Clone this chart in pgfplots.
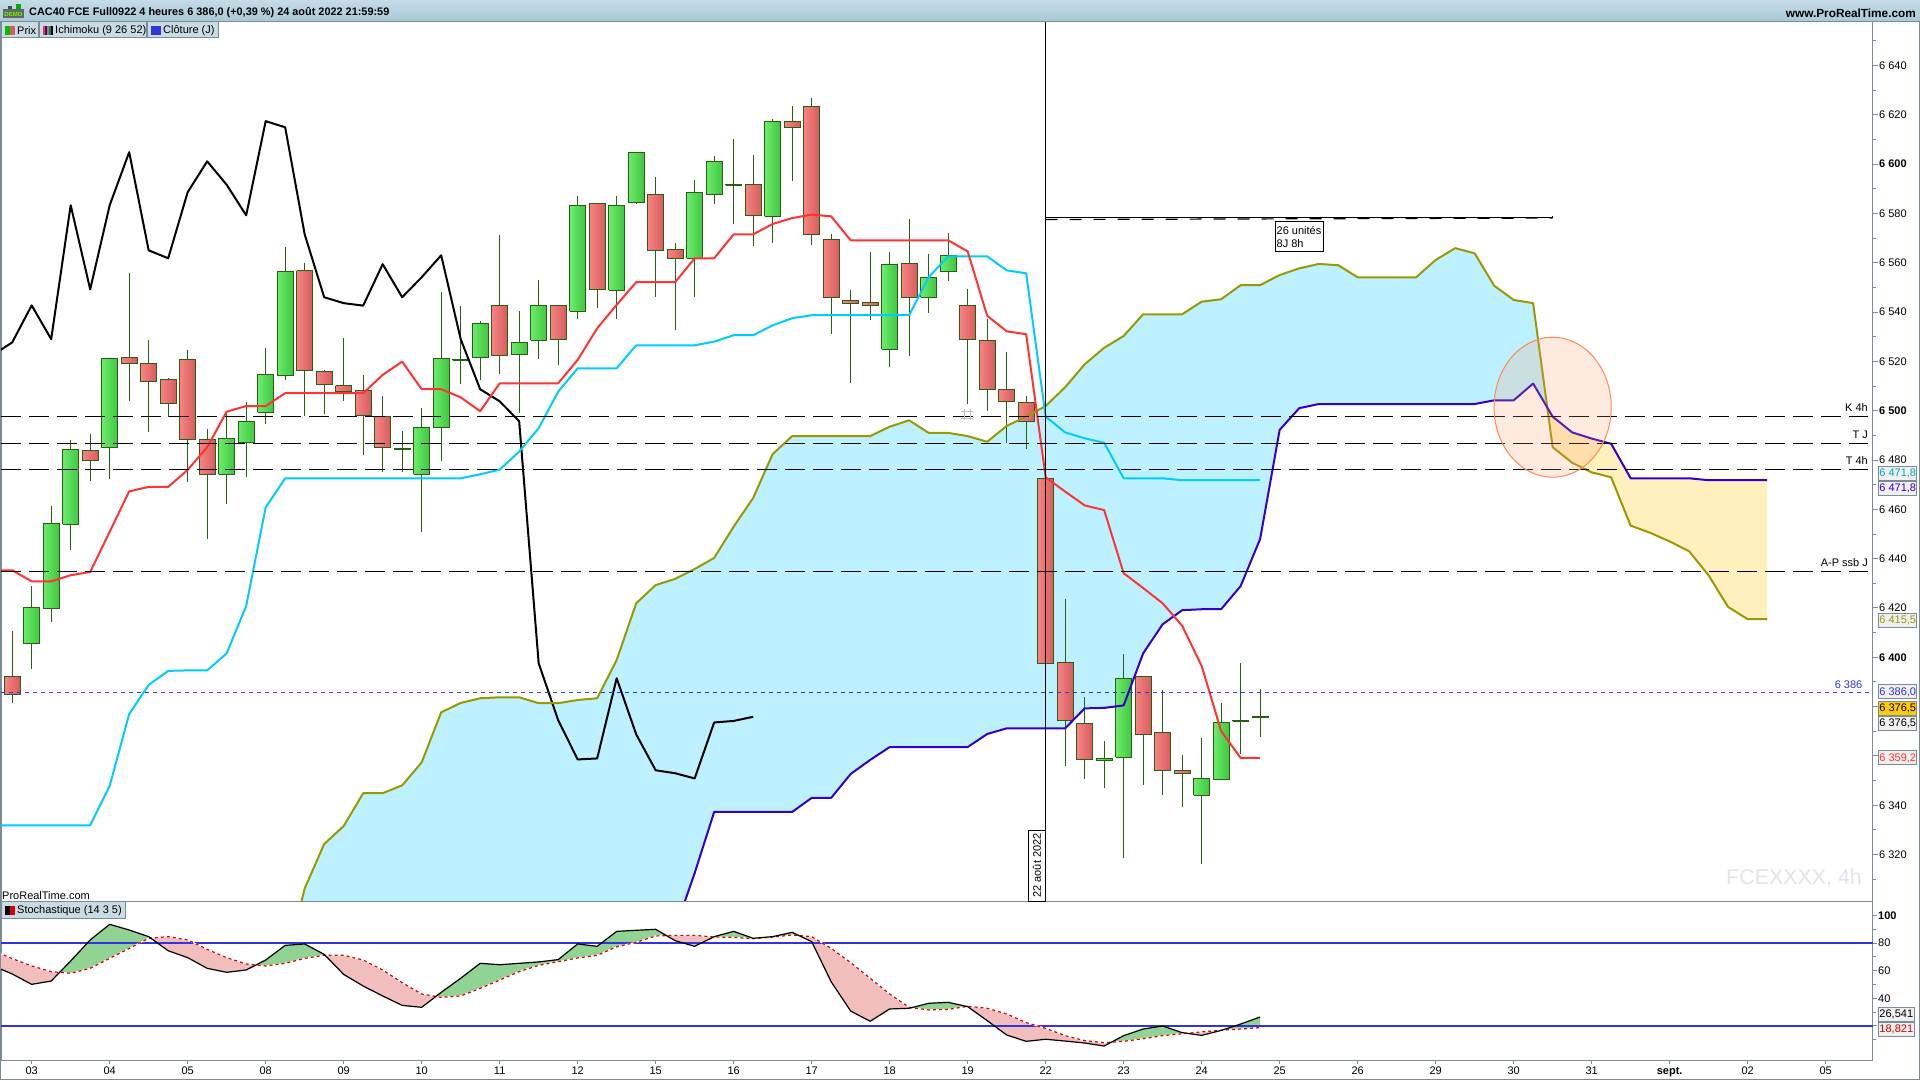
\documentclass[border=0pt]{standalone}
\usepackage{fontspec}
\setmainfont{Liberation Sans}
\usepackage{pgfplots}
\usepackage{pgfplotstable}
\pgfplotsset{compat=1.18}

\definecolor{frame}{HTML}{7A8C96}
\definecolor{wickc}{HTML}{2A5E12}
\definecolor{gl}{HTML}{6CEC6C}
\definecolor{gr}{HTML}{3FC63F}
\definecolor{rl}{HTML}{F88484}
\definecolor{rr}{HTML}{D65C5C}
\definecolor{cloudb}{HTML}{BDF1FF}
\definecolor{cloudy}{HTML}{FFF0BE}
\definecolor{tenkan}{HTML}{FF3333}
\definecolor{kijun}{HTML}{00CCFF}
\definecolor{spana}{HTML}{999900}
\definecolor{spanb}{HTML}{3300CC}
\definecolor{lineb}{HTML}{3333DD}
\definecolor{stg}{HTML}{90D392}
\definecolor{str}{HTML}{F1BDBD}
\definecolor{btn}{HTML}{CBDBE3}
\definecolor{barT}{HTML}{C5DCE6}
\definecolor{barB}{HTML}{A8C8D6}
\definecolor{gold}{HTML}{FFCC00}
\definecolor{ell}{HTML}{FF9966}
\definecolor{elld}{HTML}{FF8855}
\definecolor{wm}{HTML}{E0E4EA}

% ichimoku lines, x = candle number, y = price
\pgfplotstableread[row sep=\\]{i p\\ -1 6522.5\\ 0 6527.7\\ 1 6542.7\\ 2 6529.0\\ 3 6583.3\\ 4 6549.2\\ 5 6583.3\\ 6 6604.8\\ 7 6565.0\\ 8 6561.8\\ 9 6588.6\\ 10 6601.1\\ 11 6591.6\\ 12 6579.2\\ 13 6617.4\\ 14 6614.9\\ 15 6571.5\\ 16 6546.0\\ 17 6543.6\\ 18 6542.6\\ 19 6559.4\\ 20 6546.0\\ 21 6554.1\\ 22 6563.0\\ 23 6529.0\\ 24 6508.7\\ 25 6503.8\\ 26 6495.7\\ 27 6397.6\\ 28 6374.5\\ 29 6358.6\\ 30 6359.0\\ 31 6391.5\\ 32 6368.8\\ 33 6354.2\\ 34 6353.0\\ 35 6350.9\\ 36 6373.6\\ 37 6374.2\\ 38 6375.9\\}\chikou
\pgfplotstableread[row sep=\\]{i p\\ -1 6435.3\\ 0 6435.3\\ 1 6430.8\\ 2 6430.8\\ 3 6433.3\\ 4 6434.6\\ 5 6450.9\\ 6 6467.3\\ 7 6469.1\\ 8 6469.1\\ 9 6476.0\\ 10 6485.2\\ 11 6499.6\\ 12 6501.9\\ 13 6501.9\\ 14 6507.1\\ 18 6507.1\\ 19 6514.5\\ 20 6519.9\\ 21 6508.7\\ 22 6508.7\\ 23 6505.4\\ 24 6499.8\\ 25 6511.1\\ 28 6511.1\\ 29 6520.6\\ 30 6533.4\\ 31 6542.9\\ 32 6552.1\\ 34 6552.1\\ 35 6561.8\\ 36 6561.8\\ 37 6571.5\\ 38 6571.5\\ 39 6575.7\\ 40 6578.1\\ 41 6579.5\\ 42 6578.8\\ 43 6569.1\\ 48 6569.1\\ 49 6564.6\\ 50 6538.5\\ 51 6532.2\\ 52 6531.0\\ 53 6473.0\\ 54 6467.2\\ 55 6461.6\\ 56 6459.7\\ 57 6434.1\\ 58 6428.1\\ 59 6421.9\\ 60 6412.8\\ 61 6396.5\\ 62 6370.1\\ 63 6359.2\\ 64 6359.2\\}\tenkant
\pgfplotstableread[row sep=\\]{i p\\ -1 6331.9\\ 4 6331.9\\ 5 6347.9\\ 6 6377.0\\ 7 6388.8\\ 8 6394.5\\ 9 6394.7\\ 10 6394.7\\ 11 6401.6\\ 12 6420.8\\ 13 6460.8\\ 14 6472.6\\ 23 6472.6\\ 24 6474.2\\ 25 6476.1\\ 26 6483.4\\ 27 6492.9\\ 28 6507.7\\ 29 6517.2\\ 31 6517.2\\ 32 6526.5\\ 35 6526.5\\ 36 6528.0\\ 37 6530.6\\ 38 6530.6\\ 39 6534.6\\ 40 6537.5\\ 41 6538.7\\ 46 6538.7\\ 47 6554.1\\ 48 6562.6\\ 50 6562.6\\ 51 6556.9\\ 52 6555.7\\ 53 6497.6\\ 54 6491.2\\ 55 6488.8\\ 56 6487.0\\ 57 6472.6\\ 59 6472.6\\ 60 6471.8\\ 64 6471.8\\}\kijunt
\pgfplotstableread[row sep=\\]{i p\\ 14 6274\\ 15 6306.3\\ 16 6324.3\\ 17 6331.6\\ 18 6344.9\\ 19 6344.9\\ 20 6348.1\\ 21 6357.4\\ 22 6377.7\\ 23 6381.5\\ 24 6383.4\\ 25 6383.8\\ 26 6383.8\\ 27 6381.4\\ 28 6381.4\\ 29 6382.7\\ 30 6383.4\\ 31 6398.9\\ 32 6421.9\\ 33 6429.3\\ 34 6431.8\\ 35 6435.8\\ 36 6440.3\\ 37 6453.0\\ 38 6464.6\\ 39 6482.4\\ 40 6489.7\\ 44 6489.7\\ 45 6493.5\\ 46 6496.1\\ 47 6491.0\\ 48 6491.0\\ 49 6489.7\\ 50 6487.4\\ 51 6493.8\\ 52 6497.6\\ 53 6501.9\\ 54 6509.5\\ 55 6518.8\\ 56 6525.5\\ 57 6530.3\\ 58 6539.1\\ 60 6539.1\\ 61 6544.2\\ 62 6545.2\\ 63 6550.9\\ 64 6550.9\\ 65 6555.0\\ 66 6557.7\\ 67 6559.5\\ 68 6559.0\\ 69 6554.1\\ 72 6554.1\\ 73 6561.1\\ 74 6565.9\\ 75 6563.8\\ 76 6550.7\\ 77 6544.9\\ 78 6543.6\\ 79 6485.2\\ 80 6478.9\\ 81 6475.0\\ 82 6473.0\\ 83 6453.4\\ 84 6450.5\\ 85 6447.0\\ 86 6443.0\\ 87 6433.2\\ 88 6420.4\\ 89 6415.5\\ 90 6415.5\\}\spanA
\pgfplotstableread[row sep=\\]{i p\\ 34 6289.8\\ 35 6312.5\\ 36 6337.3\\ 40 6337.3\\ 41 6343.0\\ 42 6343.0\\ 43 6352.7\\ 44 6358.4\\ 45 6363.6\\ 49 6363.6\\ 50 6368.9\\ 51 6371.2\\ 54 6371.2\\ 55 6379.3\\ 56 6379.5\\ 57 6380.5\\ 58 6401.6\\ 59 6413.4\\ 60 6419.1\\ 61 6419.5\\ 62 6419.5\\ 63 6428.9\\ 64 6448.0\\ 65 6492.2\\ 66 6501.0\\ 67 6502.7\\ 75 6502.7\\ 76 6504.2\\ 77 6504.2\\ 78 6511.0\\ 79 6497.6\\ 80 6491.2\\ 81 6488.7\\ 82 6486.6\\ 83 6472.6\\ 86 6472.6\\ 87 6471.8\\ 90 6471.8\\}\spanB
% stochastic, %K and %D
\pgfplotstableread[row sep=\\]{i k d\\ -1 63.6 74.7\\ 0 57.6 68.7\\ 1 50.1 63.4\\ 2 52.5 59.3\\ 3 67.0 58.1\\ 4 82.2 61.7\\ 5 93.5 68.9\\ 6 89.4 76.1\\ 7 84.6 83.4\\ 8 74.4 84.6\\ 9 69.4 82.2\\ 10 61.7 75.4\\ 11 58.8 69.4\\ 12 60.5 64.8\\ 13 67.7 63.4\\ 14 78.3 65.3\\ 15 79.3 68.9\\ 16 71.8 71.1\\ 17 57.3 71.1\\ 18 48.9 67.7\\ 19 41.7 60.5\\ 20 34.9 51.3\\ 21 33.5 43.1\\ 22 44.3 40.7\\ 23 54.5 41.7\\ 24 65.3 47.2\\ 25 64.3 53.2\\ 26 65.3 59.3\\ 27 66.3 63.8\\ 28 68.0 66.5\\ 29 79.3 69.2\\ 30 77.6 71.1\\ 31 88.4 77.3\\ 32 89.2 80.5\\ 33 89.9 85.1\\ 34 81.7 85.5\\ 35 77.6 85.5\\ 36 84.6 84.3\\ 37 88.4 84.1\\ 38 83.4 83.1\\ 39 84.6 84.3\\ 40 87.7 85.8\\ 41 81.0 84.6\\ 42 52.0 76.1\\ 43 30.8 65.8\\ 44 23.4 54.5\\ 45 32.3 43.1\\ 46 32.8 33.5\\ 47 36.4 31.6\\ 48 37.1 32.0\\ 49 34.0 34.2\\ 50 23.9 32.8\\ 51 13.5 28.7\\ 52 8.9 22.4\\ 53 10.4 18.3\\ 54 9.1 13.0\\ 55 7.7 9.4\\ 56 5.5 7.9\\ 57 13.0 8.9\\ 58 17.8 10.8\\ 59 20.0 13.0\\ 60 15.2 14.4\\ 61 13.2 15.7\\ 62 16.8 16.9\\ 63 21.4 17.8\\ 64 26.5 18.8\\}\stoch

% candle: {number}{open}{high}{low}{close}
\newcommand{\candle}[7]{%
  \pgfmathsetmacro\xa{#3-0.418}\pgfmathsetmacro\xb{#3+0.418}%
  \addplot[wickc,line width=1pt] coordinates {(#3,#5)(#3,#6)};
  \addplot[draw=wickc,line width=1pt,line join=miter,left color=#1,right color=#2]
    coordinates {(\xa,#4)(\xb,#4)(\xb,#7)(\xa,#7)(\xa,#4)};
}
\newcommand{\up}{\candle{gl}{gr}}
\newcommand{\dn}{\candle{rl}{rr}}
\tikzset{lab/.style={font=\fontsize{11}{13}\selectfont,inner sep=0pt},
  tagb/.style={lab,draw=frame,line width=1pt,fill=#1,minimum width=38pt,minimum height=14pt},
  tagb/.default={black!6}}

\begin{document}
\begin{tikzpicture}
\path[use as bounding box,fill=white] (0,0) rectangle (1920pt,1080pt);

% title bar
\shade[top color=barT,bottom color=barB] (0,1058pt) rectangle (1920pt,1080pt);
\node[lab,anchor=west,font=\fontsize{10.9}{13}\selectfont\bfseries] at (29pt,1067pt) {CAC40 FCE Full0922 4 heures 6 386,0 (+0,39 \%) 24 août 2022 21:59:59};
\node[lab,anchor=east,font=\fontsize{11.8}{13}\selectfont\bfseries] at (1916pt,1067pt) {www.ProRealTime.com};

\begin{axis}[
  name=price,
  at={(1pt,179pt)},anchor=south west,
  scale only axis,width=1872pt,height=879pt,
  xmin=-0.574,xmax=95.426,ymin=6301.2,ymax=6657.6,
  xtick=\empty,
  ytick={6320,6340,...,6640},
  minor ytick={6310,6330,...,6650},
  yticklabels={6 320,6 340,,,\textbf{6 400},6 420,6 440,6 460,6 480,\textbf{6 500},6 520,6 540,6 560,6 580,\textbf{6 600},6 620,6 640},
  ytick pos=right,yticklabel pos=right,
  tick align=outside,
  major tick length=5pt,minor tick length=3pt,
  every tick/.style={frame,line width=1pt},
  axis line style={frame,line width=1pt},
  yticklabel style={font=\fontsize{11}{13}\selectfont,inner sep=0pt,xshift=1pt},
]
% kumo: span A forward, span B back
\addplot[fill=cloudb,draw=none] coordinates {(14,6274)(15,6306.3)(16,6324.3)(17,6331.6)(18,6344.9)(19,6344.9)(20,6348.1)(21,6357.4)(22,6377.7)(23,6381.5)(24,6383.4)(25,6383.8)(26,6383.8)(27,6381.4)(28,6381.4)(29,6382.7)(30,6383.4)(31,6398.9)(32,6421.9)(33,6429.3)(34,6431.8)(35,6435.8)(36,6440.3)(37,6453.0)(38,6464.6)(39,6482.4)(40,6489.7)(44,6489.7)(45,6493.5)(46,6496.1)(47,6491.0)(48,6491.0)(49,6489.7)(50,6487.4)(51,6493.8)(52,6497.6)(53,6501.9)(54,6509.5)(55,6518.8)(56,6525.5)(57,6530.3)(58,6539.1)(60,6539.1)(61,6544.2)(62,6545.2)(63,6550.9)(64,6550.9)(65,6555.0)(66,6557.7)(67,6559.5)(68,6559.0)(69,6554.1)(72,6554.1)(73,6561.1)(74,6565.9)(75,6563.8)(76,6550.7)(77,6544.9)(78,6543.6)(78.72,6501.3)(78,6511.0)(77,6504.2)(76,6504.2)(75,6502.7)(67,6502.7)(66,6501.0)(65,6492.2)(64,6448.0)(63,6428.9)(62,6419.5)(61,6419.5)(60,6419.1)(59,6413.4)(58,6401.6)(57,6380.5)(56,6379.5)(55,6379.3)(54,6371.2)(51,6371.2)(50,6368.9)(49,6363.6)(45,6363.6)(44,6358.4)(43,6352.7)(42,6343.0)(41,6343.0)(40,6337.3)(36,6337.3)(35,6312.5)(34,6289.8)(14,6274)};
\addplot[fill=cloudy,draw=none] coordinates {(78.72,6501.3)(79,6485.2)(80,6478.9)(81,6475.0)(82,6473.0)(83,6453.4)(84,6450.5)(85,6447.0)(86,6443.0)(87,6433.2)(88,6420.4)(89,6415.5)(90,6415.5)(90,6471.8)(87,6471.8)(86,6472.6)(83,6472.6)(82,6486.6)(81,6488.7)(80,6491.2)(79,6497.6)(78.72,6501.3)};

\dn{0}{6392.1}{6410.7}{6381.6}{6385.0}
\up{1}{6405.5}{6428.9}{6395.4}{6420.3}
\up{2}{6419.9}{6461.4}{6414.4}{6454.3}
\up{3}{6453.9}{6488.1}{6443.5}{6484.3}
\dn{4}{6483.9}{6490.6}{6471.6}{6479.9}
\up{5}{6485.0}{6521.2}{6472.4}{6521.2}
\dn{6}{6521.7}{6555.8}{6503.9}{6519.2}
\dn{7}{6519.2}{6528.7}{6491.5}{6511.8}
\dn{8}{6512.7}{6513.1}{6497.6}{6503.0}
\dn{9}{6520.8}{6524.6}{6471.2}{6488.4}
\dn{10}{6488.4}{6492.6}{6447.9}{6474.2}
\up{11}{6474.2}{6499.6}{6462.2}{6488.8}
\up{12}{6487.0}{6503.4}{6473.2}{6495.7}
\up{13}{6499.4}{6525.4}{6494.7}{6514.8}
\up{14}{6514.4}{6566.3}{6512.5}{6556.4}
\dn{15}{6556.8}{6559.8}{6498.0}{6516.4}
\dn{16}{6516.0}{6516.5}{6498.7}{6510.7}
\dn{17}{6510.1}{6529.4}{6504.1}{6507.7}
\dn{18}{6508.3}{6514.5}{6482.0}{6497.9}
\dn{19}{6497.6}{6506.0}{6475.3}{6485.2}
\up{20}{6484.4}{6491.8}{6475.3}{6484.8}
\up{21}{6474.2}{6501.0}{6450.9}{6493.3}
\up{22}{6493.3}{6548.0}{6479.7}{6521.2}
\up{23}{6520.4}{6542.5}{6510.7}{6520.8}
\up{24}{6521.7}{6536.4}{6512.5}{6535.4}
\dn{25}{6542.7}{6571.2}{6514.9}{6522.5}
\up{26}{6522.9}{6540.4}{6498.9}{6527.7}
\up{27}{6528.5}{6553.0}{6521.1}{6542.7}
\dn{28}{6542.7}{6542.7}{6518.7}{6529.0}
\up{29}{6540.3}{6587.1}{6537.3}{6583.3}
\dn{30}{6584.1}{6584.1}{6541.8}{6549.2}
\up{31}{6548.8}{6587.1}{6537.3}{6583.3}
\up{32}{6584.5}{6604.8}{6583.8}{6604.8}
\dn{33}{6587.8}{6594.6}{6546.2}{6565.0}
\dn{34}{6565.5}{6567.9}{6532.9}{6561.8}
\up{35}{6561.8}{6593.6}{6546.2}{6588.6}
\up{36}{6587.8}{6603.3}{6583.9}{6601.1}
\up{37}{6591.4}{6610.1}{6575.7}{6591.8}
\dn{38}{6591.8}{6603.7}{6566.9}{6579.2}
\up{39}{6578.8}{6618.3}{6568.1}{6617.4}
\dn{40}{6617.4}{6623.6}{6593.3}{6614.9}
\dn{41}{6623.4}{6626.7}{6567.3}{6571.5}
\dn{42}{6569.5}{6571.5}{6531.2}{6546.0}
\dn{43}{6544.8}{6548.9}{6511.4}{6543.6}
\dn{44}{6544.0}{6564.4}{6536.9}{6542.6}
\up{45}{6524.9}{6564.4}{6517.8}{6559.4}
\dn{46}{6559.8}{6577.6}{6522.3}{6546.0}
\up{47}{6546.0}{6563.5}{6539.7}{6554.1}
\up{48}{6556.5}{6572.1}{6552.7}{6563.0}
\dn{49}{6542.7}{6549.4}{6502.7}{6529.0}
\dn{50}{6528.5}{6537.2}{6500.0}{6508.7}
\dn{51}{6508.7}{6523.8}{6487.0}{6503.8}
\dn{52}{6503.4}{6506.0}{6484.6}{6495.7}
\dn{53}{6472.6}{6472.6}{6397.6}{6397.6}
\dn{54}{6398.0}{6423.5}{6356.0}{6374.5}
\dn{55}{6373.2}{6383.9}{6350.8}{6358.6}
\up{56}{6358.1}{6365.9}{6347.1}{6359.0}
\up{57}{6359.5}{6401.3}{6318.7}{6391.5}
\dn{58}{6392.3}{6392.3}{6348.3}{6368.8}
\dn{59}{6369.6}{6386.6}{6344.3}{6354.2}
\dn{60}{6354.2}{6360.3}{6339.4}{6353.0}
\up{61}{6344.0}{6367.3}{6316.3}{6350.9}
\up{62}{6350.5}{6381.3}{6350.5}{6373.6}
\up{63}{6374.0}{6397.6}{6360.9}{6374.4}
\up{64}{6375.7}{6387.0}{6367.8}{6376.1}

% ichimoku
\addplot[black,line width=2pt,line join=round] table[x=i,y=p] {\chikou};
\addplot[spana,line width=2pt,line join=round] table[x=i,y=p] {\spanA};
\addplot[spanb,line width=2pt,line join=round] table[x=i,y=p] {\spanB};
\addplot[kijun,line width=2pt,line join=round] table[x=i,y=p] {\kijunt};
\addplot[tenkan,line width=2pt,line join=round] table[x=i,y=p] {\tenkant};

% horizontal levels
\addplot[black,line width=1pt,dash pattern=on 20pt off 8pt] coordinates {(-0.574,6497.7)(95.18,6497.7)};
\addplot[black,line width=1pt,dash pattern=on 20pt off 8pt] coordinates {(-0.574,6486.8)(95.18,6486.8)};
\addplot[black,line width=1pt,dash pattern=on 20pt off 8pt] coordinates {(-0.574,6476.2)(95.18,6476.2)};
\addplot[black,line width=1pt,dash pattern=on 20pt off 8pt] coordinates {(-0.574,6434.9)(95.18,6434.9)};
\addplot[lineb,line width=1pt,dash pattern=on 4pt off 4pt] coordinates {(-0.574,6385.8)(95.426,6385.8)};

% measuring tool and cursor
\addplot[black,line width=1.5pt] coordinates {(53,6657.6)(53,6301.2)};
\addplot[black,line width=1pt] coordinates {(53,6578.3)(79,6578.3)(79,6579.0)};
\addplot[black,line width=1.2pt,dash pattern=on 12pt off 12pt] coordinates {(53,6577.5)(79,6578.1)};

% ellipse
\draw[fill=ell,fill opacity=0.2,draw=elld,line width=1pt]
  (axis cs:79,6501.4) ellipse [x radius=58.6pt,y radius=70pt];
\end{axis}

\begin{axis}[
  name=sto,
  at={(1pt,20pt)},anchor=south west,
  scale only axis,width=1872pt,height=159pt,
  xmin=-0.574,xmax=95.426,ymin=-4.6,ymax=110.37,
  xtick={1,5,...,93},
  xticklabels={03,04,05,08,09,10,11,12,15,16,17,18,19,22,23,24,25,26,29,30,31,\textbf{sept.},02,05},
  ytick={20,40,60,80,100},
  yticklabels={,40,60,80,\textbf{100}},
  minor ytick={10,30,50,70,90},
  ytick pos=right,yticklabel pos=right,
  xtick pos=bottom,
  tick align=outside,
  major tick length=4pt,minor tick length=3pt,
  every tick/.style={frame,line width=1pt},
  axis line style={frame,line width=1pt},
  ticklabel style={font=\fontsize{11}{13}\selectfont,inner sep=0pt},
  yticklabel style={xshift=1pt},
  xticklabel style={yshift=-3pt},
]
% areas between %K and %D, one polygon per stretch
\addplot[fill=str,draw=none] coordinates {(-1,63.6)(0,57.6)(1,50.1)(2,52.5)(2.43,58.8)(2,59.3)(1,63.4)(0,68.7)(-1,74.7)(-1,63.6)};
\addplot[fill=stg,draw=none] coordinates {(2.43,58.8)(3,67.0)(4,82.2)(5,93.5)(6,89.4)(7,84.6)(7.1,83.5)(7,83.4)(6,76.1)(5,68.9)(4,61.7)(3,58.1)(2.43,58.8)};
\addplot[fill=str,draw=none] coordinates {(7.1,83.5)(8,74.4)(9,69.4)(10,61.7)(11,58.8)(12,60.5)(12.5,64.1)(12,64.8)(11,69.4)(10,75.4)(9,82.2)(8,84.6)(7.1,83.5)};
\addplot[fill=stg,draw=none] coordinates {(12.5,64.1)(13,67.7)(14,78.3)(15,79.3)(16,71.8)(16.05,71.1)(16,71.1)(15,68.9)(14,65.3)(13,63.4)(12.5,64.1)};
\addplot[fill=str,draw=none] coordinates {(16.05,71.1)(17,57.3)(18,48.9)(19,41.7)(20,34.9)(21,33.5)(21.73,41.4)(21,43.1)(20,51.3)(19,60.5)(18,67.7)(17,71.1)(16.05,71.1)};
\addplot[fill=stg,draw=none] coordinates {(21.73,41.4)(22,44.3)(23,54.5)(24,65.3)(25,64.3)(26,65.3)(27,66.3)(28,68.0)(29,79.3)(30,77.6)(31,88.4)(32,89.2)(33,89.9)(33.56,85.3)(33,85.1)(32,80.5)(31,77.3)(30,71.1)(29,69.2)(28,66.5)(27,63.8)(26,59.3)(25,53.2)(24,47.2)(23,41.7)(22,40.7)(21.73,41.4)};
\addplot[fill=str,draw=none] coordinates {(33.56,85.3)(34,81.7)(35,77.6)(35.96,84.3)(35,85.5)(34,85.5)(33.56,85.3)};
\addplot[fill=stg,draw=none] coordinates {(35.96,84.3)(36,84.6)(37,88.4)(38,83.4)(39,84.6)(40,87.7)(40.35,85.4)(40,85.8)(39,84.3)(38,83.1)(37,84.1)(36,84.3)(35.96,84.3)};
\addplot[fill=str,draw=none] coordinates {(40.35,85.4)(41,81.0)(42,52.0)(43,30.8)(44,23.4)(45,32.3)(46,32.8)(46.13,33.2)(46,33.5)(45,43.1)(44,54.5)(43,65.8)(42,76.1)(41,84.6)(40.35,85.4)};
\addplot[fill=stg,draw=none] coordinates {(46.13,33.2)(47,36.4)(48,37.1)(48.96,34.2)(48,32.0)(47,31.6)(46.13,33.2)};
\addplot[fill=str,draw=none] coordinates {(48.96,34.2)(50,23.9)(51,13.5)(52,8.9)(53,10.4)(54,9.1)(55,7.7)(56,5.5)(56.37,8.3)(56,7.9)(55,9.4)(54,13.0)(53,18.3)(52,22.4)(51,28.7)(50,32.8)(48.96,34.2)};
\addplot[fill=stg,draw=none] coordinates {(56.37,8.3)(57,13.0)(58,17.8)(59,20.0)(60,15.2)(60.24,14.7)(60,14.4)(59,13.0)(58,10.8)(57,8.9)(56.37,8.3)};
\addplot[fill=str,draw=none] coordinates {(60.24,14.7)(61,13.2)(62,16.8)(62.03,16.9)(62,16.9)(61,15.7)(60.24,14.7)};
\addplot[fill=stg,draw=none] coordinates {(62.03,16.9)(63,21.4)(64,26.5)(64,18.8)(63,17.8)(62.03,16.9)};

\addplot[lineb,line width=2pt] coordinates {(-0.574,80)(95.426,80)};
\addplot[lineb,line width=2pt] coordinates {(-0.574,20)(95.426,20)};
\addplot[white,line width=1.2pt] table[x=i,y=d] {\stoch};
\addplot[red!85!black,line width=1.2pt,dash pattern=on 3pt off 3pt] table[x=i,y=d] {\stoch};
\addplot[black,line width=1.2pt,line join=round] table[x=i,y=k] {\stoch};
\end{axis}

% outer frame
\draw[frame,line width=1pt] (0.5pt,0.5pt) rectangle (1919.5pt,1058pt);

% legend buttons
\draw[frame,fill=btn,line width=1pt] (1pt,1042pt) rectangle (38pt,1058pt);
\fill[green!75!black] (5pt,1045pt) rectangle (10pt,1054pt); \fill[rr] (10pt,1045pt) rectangle (15pt,1054pt);
\node[lab,anchor=west] at (17pt,1049pt) {Prix};
\draw[frame,fill=btn,line width=1pt] (39pt,1042pt) rectangle (146pt,1058pt);
\fill[tenkan] (43pt,1045pt) rectangle (45pt,1054pt); \fill[spanb] (45pt,1045pt) rectangle (47pt,1054pt);
\fill[spana] (47pt,1045pt) rectangle (49pt,1054pt); \fill[kijun!60!black] (49pt,1045pt) rectangle (51pt,1054pt); \fill[black] (51pt,1045pt) rectangle (53pt,1054pt);
\node[lab,anchor=west] at (55pt,1049pt) {Ichimoku (9 26 52)};
\draw[frame,fill=btn,line width=1pt] (147pt,1042pt) rectangle (218pt,1058pt);
\fill[lineb] (151pt,1045pt) rectangle (161pt,1054pt);
\node[lab,anchor=west] at (163pt,1049pt) {Clôture (J)};

% logo
\fill[black!60] (3pt,1062pt) rectangle (24pt,1071pt);
\fill[green!70!black] (16pt,1071pt) rectangle (21pt,1076pt);
\fill[black!70] (8pt,1071pt) rectangle (12pt,1074pt);
\node[inner sep=0pt,font=\fontsize{6}{6}\selectfont\bfseries,text=green!60!yellow] at (13.5pt,1066pt) {DEMO};

% stochastic button, provider name
\draw[frame,fill=btn,line width=1pt] (1pt,162pt) rectangle (125.7pt,178.5pt);
\fill[black] (5pt,165pt) rectangle (10pt,174pt); \fill[red!85!black] (10pt,165pt) rectangle (15pt,174pt);
\node[lab,anchor=west] at (17pt,169.5pt) {Stochastique (14 3 5)};
\node[lab,anchor=west] at (2pt,184.5pt) {ProRealTime.com};
\node[inner sep=0pt,anchor=east,font=\fontsize{21.4}{24}\selectfont,text=wm] at (1862pt,202pt) {FCEXXXX, 4h};

% level names
\node[lab,anchor=east] at (1868pt,672pt) {K 4h};
\node[lab,anchor=east] at (1868pt,645pt) {T J};
\node[lab,anchor=east] at (1868pt,619pt) {T 4h};
\node[lab,anchor=east] at (1868pt,517pt) {A-P ssb J};
\node[lab,anchor=east,text=lineb] at (1862.5pt,395pt) {6 386};

% measure box
\node[draw=black,fill=white,line width=1pt,inner sep=0pt,anchor=north west,minimum width=48pt,minimum height=29.5pt,align=left,font=\fontsize{11}{13}\selectfont] at (1274.5pt,858.7pt) {26 unités\\8J 8h};

% cursor date
\draw[black,fill=white,line width=1pt] (1028.7pt,179pt) rectangle (1045.3pt,250pt);
\node[lab,rotate=90] at (1037pt,214.5pt) {22 août 2022};

% small icon beside the wick
\draw[black!25,line width=1pt] (961pt,661pt)--(973pt,661pt) (961pt,668pt)--(973pt,668pt) (964pt,660pt)--(964pt,671pt) (970pt,660pt)--(970pt,671pt);

% price tags
\node[tagb,text=kijun!80!black] at (1897.7pt,606.3pt) {6 471,8};
\node[tagb,text=spanb] at (1897.7pt,591.7pt) {6 471,8};
\node[tagb,text=spana] at (1897.7pt,459.2pt) {6 415,5};
\node[tagb,text=lineb] at (1897.7pt,388pt) {6 386,0};
\node[tagb=gold,text=black] at (1897.7pt,371.2pt) {6 376,5};
\node[tagb,text=black] at (1897.7pt,356.7pt) {6 376,5};
\node[tagb,text=tenkan] at (1897.7pt,322pt) {6 359,2};
\node[tagb,text=black,minimum width=36pt] at (1896.3pt,65.2pt) {26,541};
\node[tagb,text=red!85!black,minimum width=36pt] at (1896.3pt,50.8pt) {18,821};
\end{tikzpicture}
\end{document}
